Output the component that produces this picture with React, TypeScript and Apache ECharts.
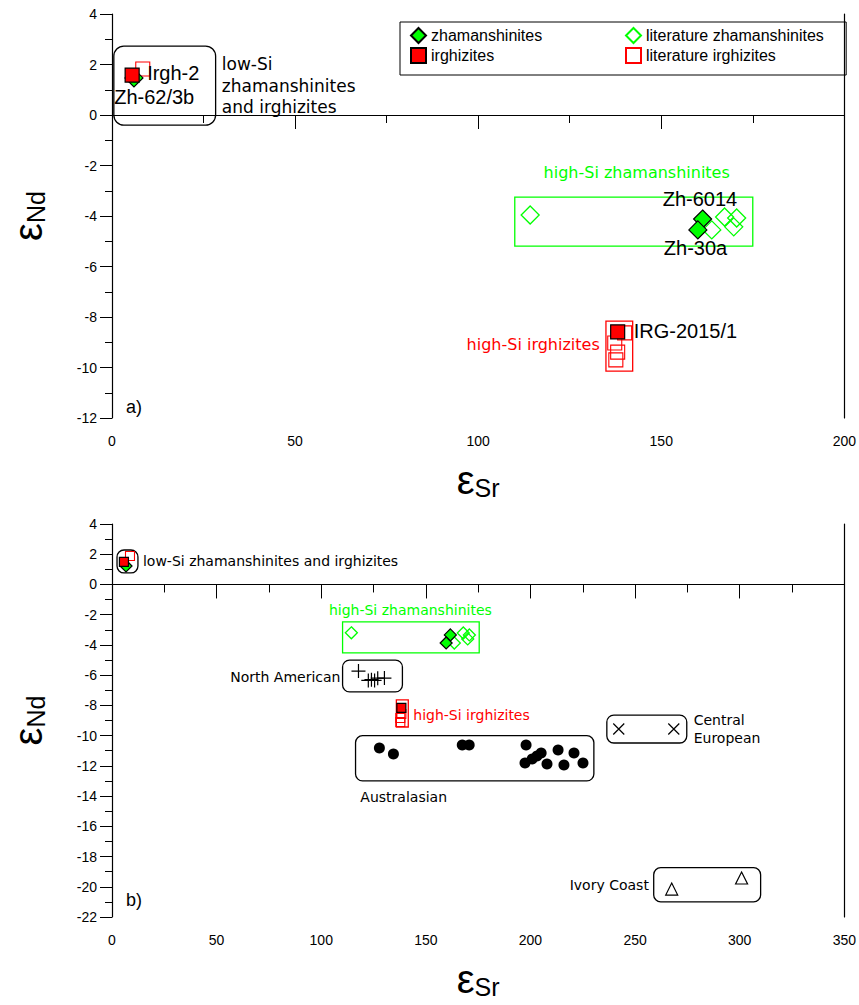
import React, { useEffect, useRef } from 'react';
import * as echarts from 'echarts';

// ---------- panel a) ----------
const aZham = [[6.0, 1.47], [161.3, -4.12], [160.0, -4.55]];
const aIrgh = [[5.5, 1.58], [138.1, -8.59]];
const aLitZham = [[114.2, -3.96], [167.3, -4.04], [170.6, -4.08], [169.8, -4.43], [163.8, -4.55]];
const aLitIrgh = [[8.4, 1.82], [140.0, -8.63], [137.3, -9.03], [138.1, -9.39], [137.6, -9.7]];
// group boxes [x1, y1, x2, y2]
const aBlackBoxes = [[0.5, 2.73, 28.3, -0.4]];
const aGreenBoxes = [[110, -3.25, 175, -5.19]];
const aRedBoxes = [[134.9, -8.16, 142.2, -10.14]];

// ---------- panel b) ----------
const bZham = [[6.7, 1.22], [161.7, -3.34], [159.7, -3.87]];
const bIrgh = [[5.7, 1.49], [138.3, -8.17]];
const bLitZham = [[114.4, -3.2], [167.9, -3.21], [170.8, -3.34], [170.0, -3.6], [163.6, -3.87]];
const bLitIrgh = [[8.6, 1.88], [138.3, -8.57], [137.8, -8.83], [137.8, -9.1]];
const northAmerican = [[117.8, -5.73], [122.5, -6.35], [124.0, -6.3], [125.5, -6.35], [127.0, -6.2], [130.2, -6.19]];
const australasian = [
  [127.8, -10.82], [134.5, -11.22], [167.4, -10.62], [170.7, -10.62], [197.9, -10.62],
  [197.4, -11.81], [200.8, -11.55], [203.1, -11.35], [205.1, -11.15], [207.9, -11.88],
  [213.2, -10.95], [216.0, -11.94], [220.8, -11.15], [225.1, -11.81],
];
const centralEuropean = [[242.2, -9.56], [268.5, -9.56]];
const ivoryCoast = [[267.5, -20.15], [300.9, -19.42]];
const bBlackBoxes = [
  [2.4, 2.28, 12.4, 0.76],
  [110.2, -5.0, 138.8, -7.11],
  [116.4, -10.0, 230.3, -13.0],
  [236.5, -8.64, 274.7, -10.49],
  [258.9, -18.74, 310.0, -21.0],
];
const bGreenBoxes = [[110.2, -2.48, 175.5, -4.53]];
const bRedBoxes = [[135.9, -7.64, 141.6, -9.43]];

// tick labels
const aXTicks = [0, 50, 100, 150, 200];
const aYTicks = [4, 2, 0, -2, -4, -6, -8, -10, -12];
const bXTicks = [0, 50, 100, 150, 200, 250, 300, 350];
const bYTicks = [4, 2, 0, -2, -4, -6, -8, -10, -12, -14, -16, -18, -20, -22];

const legendCol1 = ['zhamanshinites', 'irghizites'];
const legendCol2 = ['literature zhamanshinites', 'literature irghizites'];

// annotation texts and their anchor points (data coordinates)
const GREEN = '#00ff00';
const RED = '#ff0000';
const DEJAVU = 'DejaVu Sans';
const LIB = 'Liberation Sans';
const NARROW = '"Liberation Sans Narrow", "Liberation Sans", Arial, sans-serif';

const aNotes = [
  { t: 'Irgh-2', x: 9.6, y: 1.66, c: '#000', a: 'left', s: 20, f: LIB },
  { t: 'Zh-62/3b', x: 0.6, y: 0.72, c: '#000', a: 'left', s: 20, f: LIB },
  { t: 'low-Si\nzhamanshinites\nand irghizites', x: 30.0, y: 1.16, c: '#000', a: 'left', s: 17, f: DEJAVU, lh: 21.5 },
  { t: 'high-Si zhamanshinites', x: 143.3, y: -2.28, c: GREEN, a: 'center', s: 16, f: DEJAVU },
  { t: 'Zh-6014', x: 150.4, y: -3.33, c: '#000', a: 'left', s: 20, f: LIB },
  { t: 'Zh-30a', x: 150.7, y: -5.27, c: '#000', a: 'left', s: 20, f: LIB },
  { t: 'IRG-2015/1', x: 142.5, y: -8.55, c: '#000', a: 'left', s: 20, f: LIB },
  { t: 'high-Si irghizites', x: 133.2, y: -9.07, c: RED, a: 'right', s: 16, f: DEJAVU },
  { t: 'a)', x: 3.8, y: -11.55, c: '#000', a: 'left', s: 18, f: NARROW },
];
const bNotes = [
  { t: 'low-Si zhamanshinites and irghizites', x: 14.8, y: 1.55, c: '#000', a: 'left', s: 14, f: DEJAVU },
  { t: 'high-Si zhamanshinites', x: 142.6, y: -1.69, c: GREEN, a: 'center', s: 14, f: DEJAVU },
  { t: 'North American', x: 109.2, y: -6.12, c: '#000', a: 'right', s: 14, f: DEJAVU },
  { t: 'high-Si irghizites', x: 144.0, y: -8.64, c: RED, a: 'left', s: 14, f: DEJAVU },
  { t: 'Australasian', x: 118.7, y: -14.06, c: '#000', a: 'left', s: 14, f: DEJAVU },
  { t: 'Central\nEuropean', x: 278.0, y: -9.56, c: '#000', a: 'left', s: 14, f: DEJAVU, lh: 18 },
  { t: 'Ivory Coast', x: 256.6, y: -19.88, c: '#000', a: 'right', s: 14, f: DEJAVU },
  { t: 'b)', x: 6.7, y: -20.9, c: '#000', a: 'left', s: 18, f: NARROW },
];

const CROSS = 'path://M0,5L10,5M5,0L5,10';
const XMARK = 'path://M0,0L10,10M10,0L0,10';

function boxSeries(data: number[][], gi: number, color: string, r: number) {
  return {
    type: 'custom', xAxisIndex: gi, yAxisIndex: gi * 2, data, silent: true, z: 1,
    encode: { x: [0, 2], y: [1, 3] },
    renderItem: (params: any, api: any) => {
      const p1 = api.coord([api.value(0), api.value(1)]);
      const p2 = api.coord([api.value(2), api.value(3)]);
      return {
        type: 'rect',
        shape: {
          x: Math.min(p1[0], p2[0]), y: Math.min(p1[1], p2[1]),
          width: Math.abs(p2[0] - p1[0]), height: Math.abs(p2[1] - p1[1]), r,
        },
        style: { fill: 'none', stroke: color, lineWidth: 1.3 },
      };
    },
  };
}

function noteSeries(notes: any[], gi: number) {
  return {
    type: 'custom', xAxisIndex: gi, yAxisIndex: gi * 2, silent: true, z: 10,
    data: notes.map((n) => [n.x, n.y]),
    renderItem: (params: any, api: any) => {
      const n = notes[params.dataIndex];
      const p = api.coord([api.value(0), api.value(1)]);
      return {
        type: 'text',
        style: {
          text: n.t, x: p[0], y: p[1], fill: n.c, fontSize: n.s, fontFamily: n.f,
          align: n.a, verticalAlign: 'middle', lineHeight: n.lh || n.s * 1.2,
        },
      };
    },
  };
}

function scatter(name: string, data: number[][], gi: number, symbol: string, size: number, style: any, z = 5) {
  return {
    name, type: 'scatter', xAxisIndex: gi, yAxisIndex: gi * 2, data, symbol, symbolSize: size,
    itemStyle: style, z, emphasis: { disabled: true },
  };
}

const filledZ = { color: GREEN, borderColor: '#000', borderWidth: 1.2, opacity: 1 };
const filledI = { color: RED, borderColor: '#000', borderWidth: 1.2, opacity: 1 };
const hollowZ = { color: 'transparent', borderColor: GREEN, borderWidth: 1.3, opacity: 1 };
const hollowI = { color: 'transparent', borderColor: RED, borderWidth: 1.1, opacity: 1 };
const blackLine = { color: '#000', borderColor: '#000', borderWidth: 1.2, opacity: 1 };
const blackFill = { color: '#000', opacity: 1 };
const hollowBlack = { color: 'transparent', borderColor: '#000', borderWidth: 1.2, opacity: 1 };

function xAxis(gi: number, max: number, ticks: number[]) {
  return {
    type: 'value', gridIndex: gi, min: 0, max, interval: 50,
    axisLine: { show: true, lineStyle: { color: '#000', width: 1.2 } },
    axisTick: { show: true, inside: false, length: 14, lineStyle: { color: '#000', width: 1 } },
    minorTick: { show: true, splitNumber: 2, length: 8, lineStyle: { color: '#000', width: 1 } },
    splitLine: { show: false },
    axisLabel: {
      margin: 16, fontSize: 14, fontFamily: NARROW, color: '#000',
      formatter: (v: number) => (ticks.includes(v) ? String(v) : ''),
    },
    name: '{e|ε}{s|Sr}', nameLocation: 'middle', nameGap: 42,
    nameTextStyle: {
      rich: {
        e: { fontSize: 40, fontFamily: LIB, color: '#000' },
        s: { fontSize: 25, fontFamily: LIB, color: '#000', verticalAlign: 'bottom', padding: [14, 0, 0, 0] },
      },
    },
  };
}

function yAxis(gi: number, min: number, ticks: number[]) {
  return {
    type: 'value', gridIndex: gi, min, max: 4, interval: 2, position: 'left',
    axisLine: { show: true, onZero: false, lineStyle: { color: '#000', width: 1.2 } },
    axisTick: { show: true, inside: false, length: 12, lineStyle: { color: '#000', width: 1 } },
    minorTick: { show: true, splitNumber: 2, length: 7, lineStyle: { color: '#000', width: 1 } },
    splitLine: { show: false },
    axisLabel: {
      margin: 15, fontSize: 14, fontFamily: NARROW, color: '#000',
      formatter: (v: number) => (ticks.includes(v) ? String(v) : ''),
    },
    name: '{e|ε}{s|Nd}', nameLocation: 'middle', nameGap: 64, nameRotate: 90,
    nameTextStyle: {
      rich: {
        e: { fontSize: 40, fontFamily: LIB, color: '#000' },
        s: { fontSize: 25, fontFamily: LIB, color: '#000', verticalAlign: 'bottom', padding: [14, 0, 0, 0] },
      },
    },
  };
}

function rightAxis(gi: number, min: number) {
  return {
    type: 'value', gridIndex: gi, min, max: 4, position: 'right',
    axisLine: { show: true, onZero: false, lineStyle: { color: '#000', width: 1.2 } },
    axisTick: { show: false }, axisLabel: { show: false }, splitLine: { show: false },
  };
}

const legendBase = {
  orient: 'vertical', top: 22, itemWidth: 15, itemHeight: 15, itemGap: 3,
  selectedMode: false,
  textStyle: { fontFamily: LIB, fontSize: 16, color: '#000' },
};

export default function App() {
  const ref = useRef<HTMLDivElement>(null);
  useEffect(() => {
    if (!ref.current) return;
    const chart = echarts.init(ref.current, null, { renderer: 'svg' });
    chart.setOption({
      animation: false,
      backgroundColor: '#fff',
      grid: [
        { left: 111, right: 14, top: 14, height: 404 },
        { left: 111, right: 14, top: 524, height: 393 },
      ],
      xAxis: [xAxis(0, 200, aXTicks), xAxis(1, 350, bXTicks)],
      yAxis: [yAxis(0, -12, aYTicks), rightAxis(0, -12), yAxis(1, -22, bYTicks), rightAxis(1, -22)],
      legend: [
        {
          ...legendBase, left: 400, data: legendCol1,
          padding: [5, 304, 11, 10], borderColor: '#000', borderWidth: 1, borderRadius: 0,
        },
        { ...legendBase, left: 625, data: legendCol2, padding: [5, 5, 11, 0] },
      ],
      series: [
        boxSeries(aBlackBoxes, 0, '#000', 10),
        boxSeries(aGreenBoxes, 0, GREEN, 0),
        boxSeries(aRedBoxes, 0, RED, 0),
        scatter('literature zhamanshinites', aLitZham, 0, 'diamond', 18, hollowZ, 4),
        scatter('literature irghizites', aLitIrgh, 0, 'rect', 14, hollowI, 4),
        scatter('zhamanshinites', aZham, 0, 'diamond', 18, filledZ, 5),
        scatter('irghizites', aIrgh, 0, 'rect', 14, filledI, 6),
        noteSeries(aNotes, 0),

        boxSeries(bBlackBoxes, 1, '#000', 7),
        boxSeries(bGreenBoxes, 1, GREEN, 0),
        boxSeries(bRedBoxes, 1, RED, 0),
        scatter('b lit zham', bLitZham, 1, 'diamond', 12, hollowZ, 4),
        scatter('b lit irgh', bLitIrgh, 1, 'rect', 9, hollowI, 4),
        scatter('b zham', bZham, 1, 'diamond', 12, filledZ, 5),
        scatter('b irgh', bIrgh, 1, 'rect', 9, filledI, 6),
        scatter('North American', northAmerican, 1, CROSS, 14, blackLine, 5),
        scatter('Australasian', australasian, 1, 'circle', 11, blackFill, 5),
        scatter('Central European', centralEuropean, 1, XMARK, 11, blackLine, 5),
        scatter('Ivory Coast', ivoryCoast, 1, 'triangle', 12, hollowBlack, 5),
        noteSeries(bNotes, 1),
      ],
    });
    return () => chart.dispose();
  }, []);
  return <div ref={ref} style={{ width: 859, height: 1005, position: 'absolute', left: 0, top: 0 }} />;
}
